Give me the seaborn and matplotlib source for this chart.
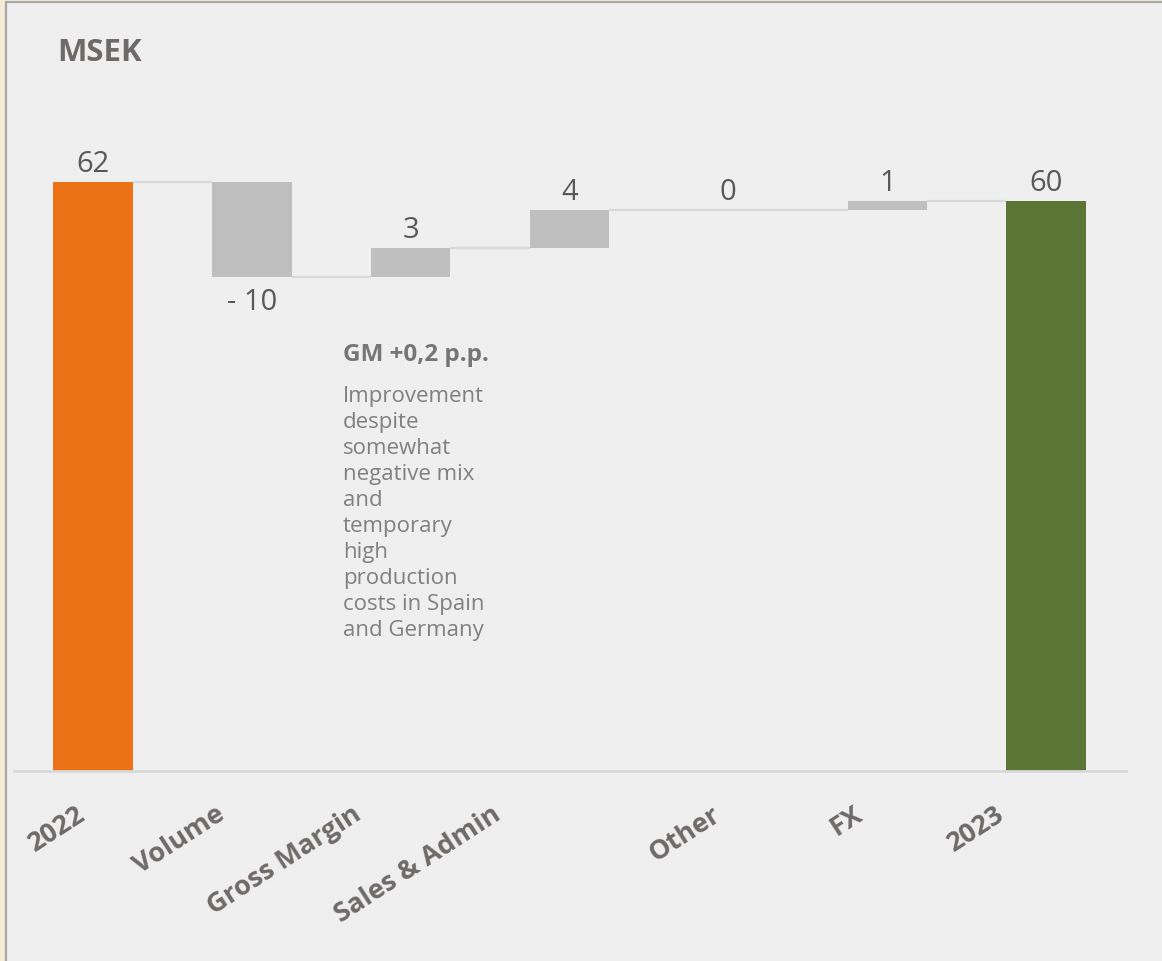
import matplotlib
matplotlib.use("Agg")
import matplotlib.pyplot as plt
import matplotlib.transforms as mtransforms
from matplotlib.patches import Rectangle
import seaborn as sns
import numpy as np

# ---- data ----
categories = ["2022", "Volume", "Gross Margin", "Sales & Admin", "Other", "FX", "2023"]
values = [62, -10, 3, 4, 0, 1, 60]
kinds = ["start", "delta", "delta", "delta", "delta", "delta", "total"]
value_labels = ["62", "- 10", "3", "4", "0", "1", "60"]
title_text = "MSEK"
note_title = "GM +0,2 p.p."
note_body = ("Improvement\ndespite\nsomewhat\nnegative mix\nand\ntemporary\nhigh\n"
             "production\ncosts in Spain\nand Germany")

# ---- style ----
sns.set_theme(style="white")
plt.rcParams["font.family"] = ["Open Sans", "DejaVu Sans"]

COL_START = "#ED7117"
COL_DELTA = "#BFBFBF"
COL_TOTAL = "#5B7536"
COL_LINE = "#D9D9D9"

W, H = 1162, 962
fig = plt.figure(figsize=(W / 100, H / 100), dpi=100, facecolor="#F6EAD9")
panel = Rectangle((6 / W, -0.05), 1.1, 1 - 3 / H + 0.05, transform=fig.transFigure,
                  facecolor="#EFEFEF", edgecolor="#A9A9A9", linewidth=1.6, zorder=-5)
fig.patches.append(panel)

ax = fig.add_axes([13.5 / W, (H - 771.5) / H, 1112 / W, 665 / H])
ax.set_facecolor("none")
ax.set_zorder(2)

# compute bottoms / heights
bottoms, heights, colors, levels = [], [], [], []
run = 0
for v, k in zip(values, kinds):
    if k == "start":
        b, h = 0, v
        run = v
        colors.append(COL_START)
    elif k == "total":
        b, h = 0, v
        run = v
        colors.append(COL_TOTAL)
    else:
        b = run if v >= 0 else run + v
        h = abs(v)
        run = run + v
        colors.append(COL_DELTA)
    bottoms.append(b)
    heights.append(h)
    levels.append(run)

sns.barplot(x=categories, y=heights, hue=categories, palette=colors, legend=False,
            width=0.5, ax=ax, saturation=1, order=categories, hue_order=categories,
            zorder=3)
for p, b in zip(ax.patches, bottoms):
    p.set_y(b)
    p.set_edgecolor("none")

# connectors
for i in range(len(categories) - 1):
    ax.plot([i + 0.25, i + 0.75], [levels[i], levels[i]], color=COL_LINE, lw=1.6,
            zorder=2, solid_capstyle="butt")
for i, h in enumerate(heights):
    if h == 0:
        ax.plot([i - 0.25, i + 0.25], [levels[i], levels[i]], color=COL_LINE, lw=1.6,
                zorder=2, solid_capstyle="butt")

# value labels
for i, (b, h, v, lab) in enumerate(zip(bottoms, heights, values, value_labels)):
    if v >= 0:
        ax.annotate(lab, xy=(i, b + h), xytext=(0, 13), textcoords="offset points",
                    ha="center", va="center", fontsize=21, color="#595959")
    else:
        ax.annotate(lab, xy=(i, b), xytext=(0, -18), textcoords="offset points",
                    ha="center", va="center", fontsize=21, color="#595959")

ax.set_xlim(-0.5, 6.5)
ax.set_ylim(0, 70)
ax.set_yticks([])
ax.set_xticks(range(len(categories)))
ax.set_xticklabels([])
ax.tick_params(axis="x", length=0)
ax.set_xlabel("")
ax.set_ylabel("")
for s in ["top", "right", "left"]:
    ax.spines[s].set_visible(False)
ax.spines["bottom"].set_color(COL_LINE)
ax.spines["bottom"].set_linewidth(2)
ax.spines["bottom"].set_zorder(4)

# category labels (rotated)
label_dx_px = [-17, -37, -59, -78, -17, -34, -51]
for i, (lab, dx) in enumerate(zip(categories, label_dx_px)):
    tr = ax.get_xaxis_transform() + mtransforms.ScaledTranslation(dx / 100, -30 / 100,
                                                                  fig.dpi_scale_trans)
    ax.text(i, 0, lab, transform=tr, rotation=33, rotation_mode="anchor",
            ha="right", va="top", fontsize=19.5, fontweight="bold", color="#6E6A6A")

# title and note
fig.text(57 / W, 1 - 53 / H, title_text, ha="left", va="center", fontsize=22.5,
         fontweight="bold", color="#6E6A6A")
fig.text(343 / W, 1 - 355 / H, note_title, ha="left", va="center", fontsize=17.5,
         fontweight="bold", color="#767676")
fig.text(343 / W, 1 - 386 / H, note_body, ha="left", va="top", fontsize=16,
         color="#808080", linespacing=1.31)

fig.savefig("out.png", dpi=100, facecolor=fig.get_facecolor())
